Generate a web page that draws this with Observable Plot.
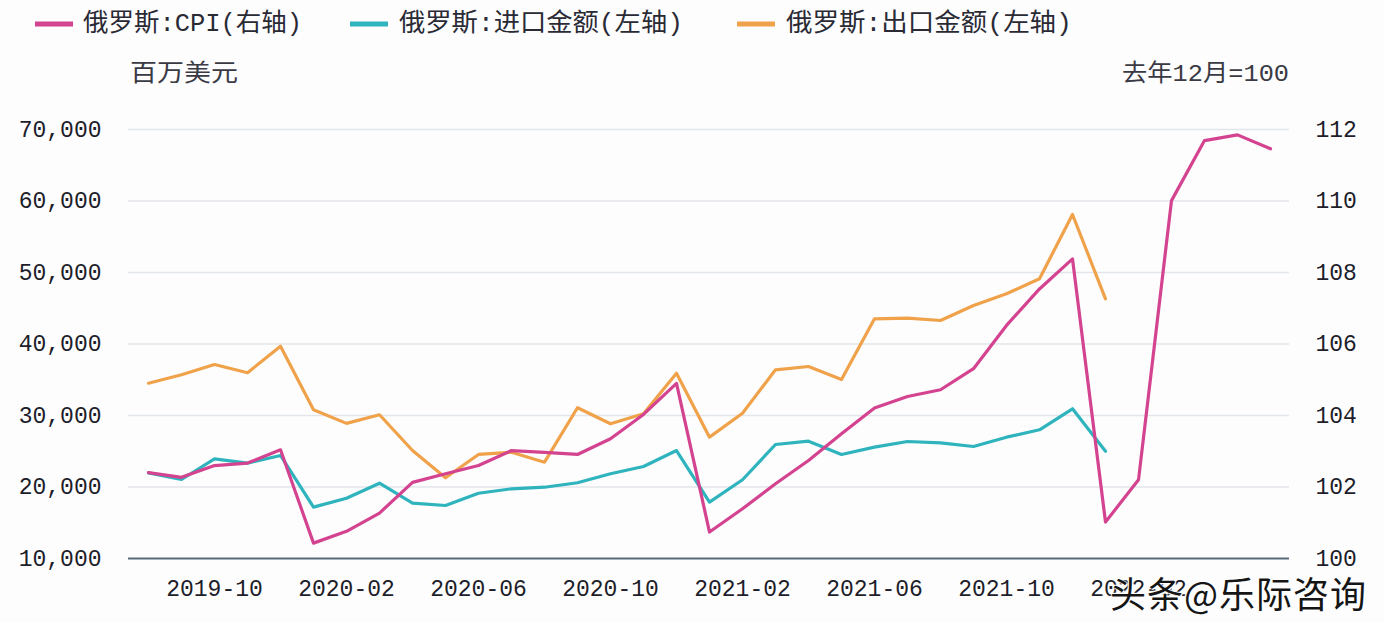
<!DOCTYPE html>
<html>
<head>
<meta charset="utf-8">
<script src="https://cdn.jsdelivr.net/npm/d3@7"></script>
<script src="https://cdn.jsdelivr.net/npm/@observablehq/plot@0.6"></script>
<style>
  html, body { margin: 0; padding: 0; background: #ffffff; }
  #wrap { position: relative; width: 1384px; height: 622px; overflow: hidden; background: #fdfdfe; }
  #stamp { position: absolute; left: 1110px; top: 566px; font-family: 'Noto Sans CJK SC', sans-serif;
           font-size: 36px; color: #151515; white-space: nowrap; letter-spacing: 1px;
           text-shadow: 0 0 2px #fff, 0 0 3px #fff, 1px 1px 0 #fff, -1px -1px 0 #fff; }
</style>
</head>
<body>
<div id="wrap"></div>
<script>
// ---- data ----
const months = [
  "2019-08","2019-09","2019-10","2019-11","2019-12",
  "2020-01","2020-02","2020-03","2020-04","2020-05","2020-06","2020-07","2020-08","2020-09","2020-10","2020-11","2020-12",
  "2021-01","2021-02","2021-03","2021-04","2021-05","2021-06","2021-07","2021-08","2021-09","2021-10","2021-11","2021-12",
  "2022-01","2022-02","2022-03","2022-04","2022-05","2022-06"
];
// 俄罗斯:CPI (去年12月=100), right axis
const cpi = [
  102.40, 102.27, 102.60, 102.67, 103.04,
  100.43, 100.76, 101.27, 102.13, 102.37, 102.60, 103.02, 102.97, 102.91, 103.35, 104.03, 104.90,
  100.74, 101.39, 102.09, 102.74, 103.49, 104.21, 104.53, 104.72, 105.31, 106.52, 107.54, 108.38,
  101.02, 102.20, 110.01, 111.69, 111.85, 111.46
];
// 俄罗斯:进口金额 (百万美元), left axis
const imports = [
  21980, 21050, 23940, 23330, 24410,
  17180, 18430, 20530, 17740, 17410, 19130, 19750, 19970, 20590, 21850, 22870, 25100,
  17880, 21010, 25940, 26410, 24550, 25570, 26360, 26180, 25660, 26970, 28000, 30940,
  25010
];
// 俄罗斯:出口金额 (百万美元), left axis
const exports = [
  34520, 35700, 37130, 35970, 39700,
  30800, 28900, 30100, 25100, 21290, 24550, 24870, 23470, 31080, 28840, 30240, 35920,
  26970, 30320, 36390, 36850, 35030, 43520, 43610, 43290, 45380, 47020, 49120, 58110,
  46320
];
const leftTicks = [10000, 20000, 30000, 40000, 50000, 60000, 70000];
const rightTicks = [100, 102, 104, 106, 108, 110, 112];
const xTicks = ["2019-10","2020-02","2020-06","2020-10","2021-02","2021-06","2021-10","2022-02"];

const seriesNames = ["俄罗斯:CPI(右轴)", "俄罗斯:进口金额(左轴)", "俄罗斯:出口金额(左轴)"];
const seriesColors = ["#d4438f", "#2fb4be", "#f0a24a"];
const leftUnit = "百万美元";
const rightUnit = "去年12月=100";
const stampText = "头条@乐际咨询";

// ---- helpers: map right-axis values onto the left scale ----
const toLeft = c => 10000 + (c - 100) * 5000;
const fromLeft = v => (v - 10000) / 5000 + 100;

const cpiRows = months.map((m, i) => ({month: m, value: toLeft(cpi[i])}));
const impRows = imports.map((v, i) => ({month: months[i], value: v}));
const expRows = exports.map((v, i) => ({month: months[i], value: v}));

const wrap = document.getElementById("wrap");
const FONT = "'Liberation Mono', 'Noto Sans CJK SC', monospace";

// ---- header: legend + units ----
const header = d3.create("svg").attr("width", 1384).attr("height", 96)
  .style("display", "block")
  .style("font-family", FONT);
const legendLayout = [
  {sx: 35, tx: 83, len: 219},
  {sx: 350, tx: 399, len: 284},
  {sx: 737, tx: 786, len: 286}
];
seriesNames.forEach((name, i) => {
  const L = legendLayout[i];
  header.append("line").attr("x1", L.sx).attr("x2", L.sx + 38)
    .attr("y1", 24).attr("y2", 24)
    .attr("stroke", seriesColors[i]).attr("stroke-width", 5);
  header.append("text").attr("x", L.tx).attr("y", 24)
    .attr("dominant-baseline", "central")
    .attr("font-size", 25).attr("fill", "#2a2a35")
    .attr("textLength", L.len).attr("lengthAdjust", "spacingAndGlyphs")
    .text(name);
});
header.append("text").attr("x", 130).attr("y", 74).attr("dominant-baseline", "central")
  .attr("font-size", 24).attr("fill", "#3a3a45")
  .attr("textLength", 108).attr("lengthAdjust", "spacingAndGlyphs").text(leftUnit);
header.append("text").attr("x", 1122).attr("y", 74).attr("dominant-baseline", "central")
  .attr("font-size", 24).attr("fill", "#3a3a45")
  .attr("textLength", 167).attr("lengthAdjust", "spacingAndGlyphs").text(rightUnit);
wrap.appendChild(header.node());

// ---- chart ----
const chart = Plot.plot({
  width: 1384,
  height: 526,
  marginTop: 33,
  marginBottom: 64,
  marginLeft: 128,
  marginRight: 95,
  style: {fontFamily: FONT, fontSize: "23px", color: "#1e1e2a", background: "transparent", overflow: "visible"},
  x: {type: "point", domain: months, padding: 0.5},
  y: {domain: [10000, 70000]},
  marks: [
    Plot.gridY(leftTicks.slice(1), {stroke: "#e2e5ea", strokeOpacity: 1, strokeWidth: 1.4}),
    Plot.axisY(leftTicks, {anchor: "left", tickSize: 0, tickPadding: 27, tickFormat: d3.format(","), label: null}),
    Plot.axisY(rightTicks.map(toLeft), {anchor: "right", tickSize: 0, tickPadding: 26, tickFormat: v => String(Math.round(fromLeft(v))), label: null}),
    Plot.axisX(xTicks, {anchor: "bottom", tickSize: 0, tickPadding: 21, label: null}),
    Plot.ruleY([10000], {stroke: "#5b6b7c", strokeWidth: 2}),
    Plot.lineY(expRows, {x: "month", y: "value", stroke: seriesColors[2], strokeWidth: 3.2}),
    Plot.lineY(impRows, {x: "month", y: "value", stroke: seriesColors[1], strokeWidth: 3.2}),
    Plot.lineY(cpiRows, {x: "month", y: "value", stroke: seriesColors[0], strokeWidth: 3.2})
  ]
});
chart.style.display = "block";
wrap.appendChild(chart);

const stamp = document.createElement("div");
stamp.id = "stamp";
stamp.textContent = stampText;
wrap.appendChild(stamp);
</script>
</body>
</html>
